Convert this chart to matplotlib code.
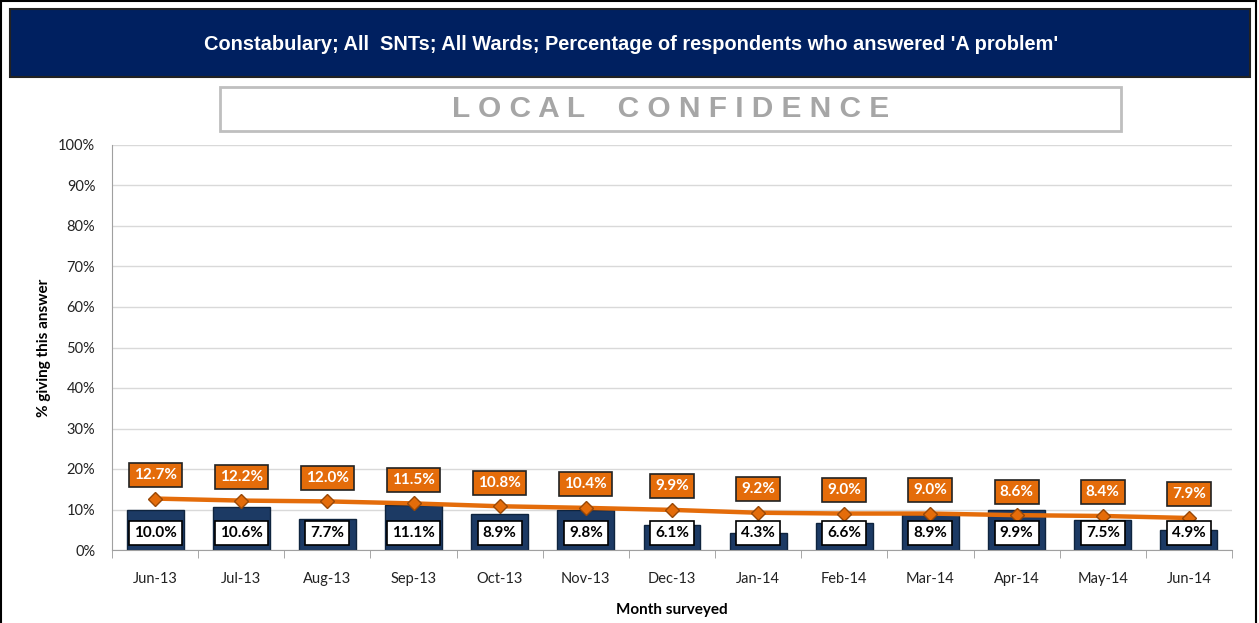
import matplotlib.pyplot as plt
import numpy as np
from matplotlib.patches import Rectangle
from matplotlib.lines import Line2D

months = ["Jun-13", "Jul-13", "Aug-13", "Sep-13", "Oct-13", "Nov-13", "Dec-13",
          "Jan-14", "Feb-14", "Mar-14", "Apr-14", "May-14", "Jun-14"]
monthly = [10.0, 10.6, 7.7, 11.1, 8.9, 9.8, 6.1, 4.3, 6.6, 8.9, 9.9, 7.5, 4.9]
rolling = [12.7, 12.2, 12.0, 11.5, 10.8, 10.4, 9.9, 9.2, 9.0, 9.0, 8.6, 8.4, 7.9]
yticks = [0, 10, 20, 30, 40, 50, 60, 70, 80, 90, 100]

NAVY = "#1c3a64"
ORANGE = "#e46c0a"
BANNER = "#002060"
LABEL_FONT = ["Lato", "DejaVu Sans"]
NARROW = ["Liberation Sans", "DejaVu Sans"]

W, H = 1259, 623
fig = plt.figure(figsize=(W / 100, H / 100), dpi=100, facecolor="white")

# outer frame (open at the bottom, like the cropped original)
for xs, ys in [((1, 1), (0, H)), ((1, 1256), (1, 1)), ((1256, 1256), (0, H))]:
    fig.add_artist(Line2D([x / W for x in xs], [1 - y / H for y in ys],
                          color="black", lw=1.5, transform=fig.transFigure))

# title banner
fig.add_artist(Rectangle((10 / W, 1 - 77 / H), 1240 / W, 68 / H, transform=fig.transFigure,
                         facecolor=BANNER, edgecolor="#222222", lw=1.5))
fig.text(631 / W, 1 - 44 / H,
         "Constabulary; All  SNTs; All Wards; Percentage of respondents who answered 'A problem'",
         color="white", fontsize=14.4, fontweight="bold", family=NARROW,
         ha="center", va="center")

# heading box
fig.add_artist(Rectangle((220 / W, 1 - 131 / H), 901 / W, 44 / H, transform=fig.transFigure,
                         facecolor="white", edgecolor="#bfbfbf", lw=2))
fig.text(671 / W, 1 - 109 / H, " ".join("LOCAL CONFIDENCE").replace("   ", "    "),
         color="#a6a6a6", fontsize=21.5, fontweight="bold", family=NARROW,
         ha="center", va="center")

ax = fig.add_axes([112 / W, 1 - 550 / H, 1120 / W, 405 / H])
x = np.arange(len(months))

ax.bar(x, monthly, width=0.66, color=NAVY, edgecolor="#0f243e", lw=1, zorder=2)
ax.plot(x, rolling, color=ORANGE, lw=3.2, marker="D", markersize=7,
        markerfacecolor=ORANGE, markeredgecolor="#984807", markeredgewidth=1, zorder=3)

for xi, v in zip(x, monthly):
    ax.annotate(f"{v:.1f}%", (xi, 0), xytext=(0, 12), textcoords="offset points",
                ha="center", va="center", fontsize=11, fontweight="bold",
                family=LABEL_FONT, color="black", zorder=4,
                bbox=dict(boxstyle="square,pad=0.33", facecolor="white",
                          edgecolor="black", lw=1.2))
for xi, v in zip(x, rolling):
    ax.annotate(f"{v:.1f}%", (xi, v), xytext=(0, 17), textcoords="offset points",
                ha="center", va="center", fontsize=11, fontweight="bold",
                family=LABEL_FONT, color="white", zorder=4,
                bbox=dict(boxstyle="square,pad=0.33", facecolor=ORANGE,
                          edgecolor="#222222", lw=1.2))

ax.set_xlim(-0.5, len(months) - 0.5)
ax.set_ylim(0, 100)
ax.set_yticks(yticks)
ax.set_yticklabels([f"{t}%" for t in yticks], family=LABEL_FONT, fontsize=10.5)
ax.yaxis.grid(True, color="#d9d9d9", lw=1)
ax.set_axisbelow(True)
ax.tick_params(axis="y", length=0, pad=12, colors="#222222")

ax.set_xticks(x)
ax.set_xticklabels(months, family=LABEL_FONT, fontsize=10.5)
ax.set_xticks(np.arange(-0.5, len(months)), minor=True)
ax.tick_params(axis="x", which="major", length=0, pad=16, colors="#222222")
ax.tick_params(axis="x", which="minor", length=6, color="#999999")

for side in ["top", "right"]:
    ax.spines[side].set_visible(False)
for side in ["left", "bottom"]:
    ax.spines[side].set_color("#a0a0a0")

ax.set_ylabel("% giving this answer", family=LABEL_FONT, fontsize=11,
              fontweight="bold", labelpad=5)
ax.set_xlabel("Month surveyed", family=LABEL_FONT, fontsize=11,
              fontweight="bold", labelpad=12)

fig.savefig("out.png", dpi=100, facecolor="white")
